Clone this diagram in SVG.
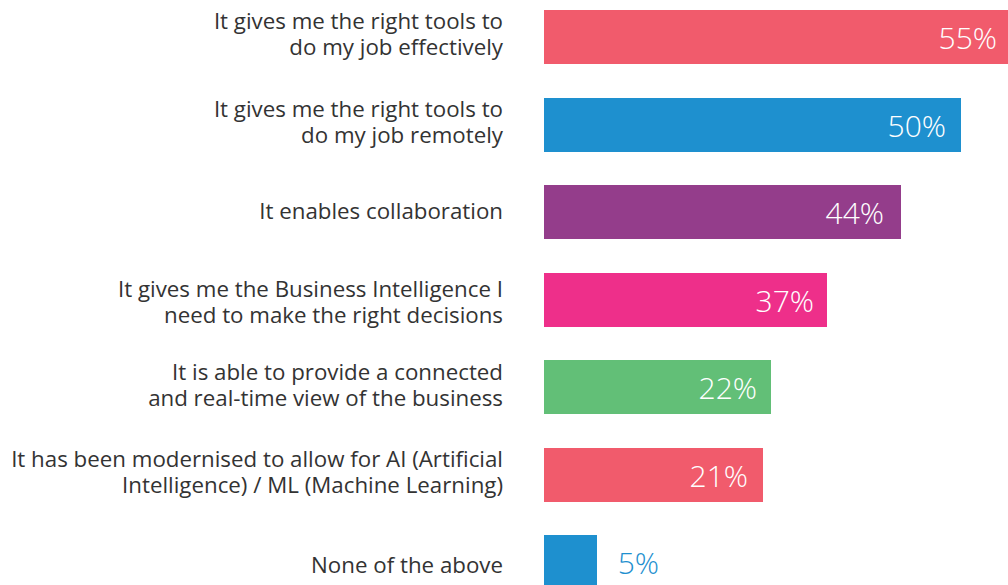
<svg xmlns="http://www.w3.org/2000/svg" width="1008" height="585" viewBox="0 0 1008 585">
<style>
.lbl{font-family:"Open Sans","Noto Sans",sans-serif;font-size:22.3px;fill:#333333;text-anchor:end}
.val{font-family:"Open Sans","Noto Sans",sans-serif;font-size:30px;font-weight:300;fill:#ffffff;text-anchor:end}
</style>
<rect width="1008" height="585" fill="#ffffff"/>
<g id="bar1">
<rect x="544" y="10" width="470" height="54" fill="#f15b6c"/>
<text class="lbl"><tspan x="503" y="29">It gives me the right tools to</tspan><tspan x="503" y="55">do my job effectively</tspan></text>
<text class="val" x="997" y="49">55%</text>
</g>
<g id="bar2">
<rect x="544" y="98" width="417" height="54" fill="#1e90cf"/>
<text class="lbl"><tspan x="503" y="117">It gives me the right tools to</tspan><tspan x="503" y="143">do my job remotely</tspan></text>
<text class="val" x="946" y="137">50%</text>
</g>
<g id="bar3">
<rect x="544" y="185" width="357" height="54" fill="#943d8b"/>
<text class="lbl" x="503" y="219">It enables collaboration</text>
<text class="val" x="884" y="224">44%</text>
</g>
<g id="bar4">
<rect x="544" y="273" width="283" height="54" fill="#ee2f8a"/>
<text class="lbl"><tspan x="503" y="297">It gives me the Business Intelligence I</tspan><tspan x="503" y="323">need to make the right decisions</tspan></text>
<text class="val" x="814" y="312">37%</text>
</g>
<g id="bar5">
<rect x="544" y="360" width="227" height="54" fill="#62bf77"/>
<text class="lbl"><tspan x="503" y="380">It is able to provide a connected</tspan><tspan x="503" y="406">and real-time view of the business</tspan></text>
<text class="val" x="757" y="399">22%</text>
</g>
<g id="bar6">
<rect x="544" y="448" width="219" height="54" fill="#f15b6c"/>
<text class="lbl"><tspan x="503" y="467">It has been modernised to allow for AI (Artificial</tspan><tspan x="503" y="493">Intelligence) / ML (Machine Learning)</tspan></text>
<text class="val" x="748" y="487">21%</text>
</g>
<g id="bar7">
<rect x="544" y="535" width="53" height="54" fill="#1e90cf"/>
<text class="lbl" x="503" y="573">None of the above</text>
<text class="val" x="659" y="574" style="fill:#1e90cf">5%</text>
</g>
<g id="connectors"></g>
</svg>
